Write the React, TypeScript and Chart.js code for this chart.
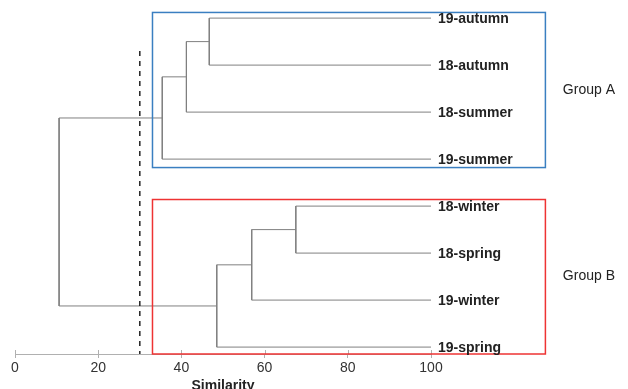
import React, { useEffect, useRef } from "react";
import { Chart, registerables } from "chart.js";

Chart.register(...registerables);

// Leaves (top to bottom)
const leaves = ["19-autumn", "18-autumn", "18-summer", "19-summer", "18-winter", "18-spring", "19-winter", "19-spring"];
// Linkage: children ids (0..7 = leaves, 8.. = merged clusters in order)
const linkChildren: [number, number][] = [[0, 1], [8, 2], [9, 3], [4, 5], [11, 6], [12, 7], [10, 13]];
// Similarity at which each merge happens
const linkHeights = [46.7, 41.2, 35.4, 67.5, 56.9, 48.5, 10.6];
const leafSimilarity = 100;
const cutOff = 30;
const xTicks = [0, 20, 40, 60, 80, 100];
const groupNames = ["Group A", "Group B"];
const groupLeafRanges: [number, number][] = [[0, 3], [4, 7]];

const FONT = "'Liberation Sans', Arial, Helvetica, sans-serif";

function buildSegments() {
  const nodeX: number[] = leaves.map(() => leafSimilarity);
  const nodeY: number[] = leaves.map((_, i) => i);
  const segs: { x: number; y: number }[][] = [];
  linkChildren.forEach(([a, b], k) => {
    const h = linkHeights[k];
    segs.push([
      { x: nodeX[a], y: nodeY[a] },
      { x: h, y: nodeY[a] },
      { x: h, y: nodeY[b] },
      { x: nodeX[b], y: nodeY[b] },
    ]);
    nodeX.push(h);
    nodeY.push((nodeY[a] + nodeY[b]) / 2);
  });
  return segs;
}

export default function App() {
  const ref = useRef<HTMLCanvasElement | null>(null);

  useEffect(() => {
    document.body.style.margin = "0";
    const canvas = ref.current;
    if (!canvas) return;
    const segs = buildSegments();

    const overlay = {
      id: "overlay",
      afterDatasetsDraw(chart: any) {
        const { ctx, scales } = chart;
        const xs = scales.x;
        const ys = scales.y;
        const area = chart.chartArea;
        ctx.save();
        // upward tick halves
        ctx.strokeStyle = "#b0b0b0";
        ctx.lineWidth = 1;
        xTicks.forEach((t) => {
          const px = Math.round(xs.getPixelForValue(t)) + 0.5;
          ctx.beginPath();
          ctx.moveTo(px, area.bottom - 4);
          ctx.lineTo(px, area.bottom);
          ctx.stroke();
        });
        // cut-off dashed line
        ctx.strokeStyle = "#222";
        ctx.lineWidth = 1.5;
        ctx.setLineDash([5, 5]);
        const dx = xs.getPixelForValue(cutOff);
        ctx.beginPath();
        ctx.moveTo(dx, ys.getPixelForValue(0.7));
        ctx.lineTo(dx, area.bottom);
        ctx.stroke();
        ctx.setLineDash([]);
        // group boxes
        const boxColors = ["#3a7fc1", "#ee3333"];
        const boxTops = [-0.12, 3.86];
        const boxBottoms = [3.18, 7.147];
        groupLeafRanges.forEach((_, g) => {
          const l = xs.getPixelForValue(33.05);
          const r = xs.getPixelForValue(127.5);
          const t = ys.getPixelForValue(boxTops[g]);
          const b = ys.getPixelForValue(boxBottoms[g]);
          ctx.strokeStyle = boxColors[g];
          ctx.lineWidth = 1.5;
          ctx.strokeRect(l, t, r - l, b - t);
        });
        // leaf labels
        ctx.fillStyle = "#222";
        ctx.font = `bold 14px ${FONT}`;
        ctx.textAlign = "left";
        ctx.textBaseline = "middle";
        leaves.forEach((name, i) => {
          ctx.fillText(name, xs.getPixelForValue(leafSimilarity) + 7, ys.getPixelForValue(i) + 1);
        });
        // group labels
        ctx.font = `14px ${FONT}`;
        const groupY = [1.51, 5.46];
        groupNames.forEach((name, g) => {
          ctx.fillText(name, xs.getPixelForValue(131.7), ys.getPixelForValue(groupY[g]) + 1);
        });
        // axis title
        ctx.font = `bold 14px ${FONT}`;
        ctx.textAlign = "center";
        ctx.textBaseline = "alphabetic";
        ctx.fillStyle = "#222";
        ctx.fillText("Similarity", xs.getPixelForValue(50), 389.5);
        ctx.restore();
      },
    };

    const chart = new Chart(canvas, {
      type: "scatter",
      data: {
        datasets: segs.map((s) => ({
          data: s,
          showLine: true,
          borderColor: "#808080",
          borderWidth: 1,
          pointRadius: 0,
          pointHoverRadius: 0,
          fill: false,
          tension: 0,
        })),
      },
      options: {
        animation: false,
        responsive: false,
        events: [],
        layout: { padding: { left: 15, right: 197, top: 4, bottom: 0 } },
        plugins: { legend: { display: false }, tooltip: { enabled: false } },
        scales: {
          x: {
            type: "linear",
            min: 0,
            max: 100,
            afterFit: (scale: any) => {
              scale.height = 35;
            },
            afterBuildTicks: (scale: any) => {
              scale.ticks = xTicks.map((v) => ({ value: v }));
            },
            border: { display: true, color: "#b0b0b0", width: 1 },
            grid: { display: true, drawOnChartArea: false, drawTicks: true, tickLength: 4, color: "#b0b0b0" },
            ticks: { color: "#333", font: { family: FONT, size: 14 }, padding: 2, maxRotation: 0 },
          },
          y: {
            type: "linear",
            reverse: true,
            min: -0.3,
            max: 7.147,
            display: false,
          },
        },
      },
      plugins: [overlay],
    });
    return () => chart.destroy();
  }, []);

  return (
    <div style={{ position: "fixed", left: 0, top: 0, width: 628, height: 389, background: "#fff" }}>
      <canvas ref={ref} width={628} height={389} style={{ display: "block" }} />
    </div>
  );
}
